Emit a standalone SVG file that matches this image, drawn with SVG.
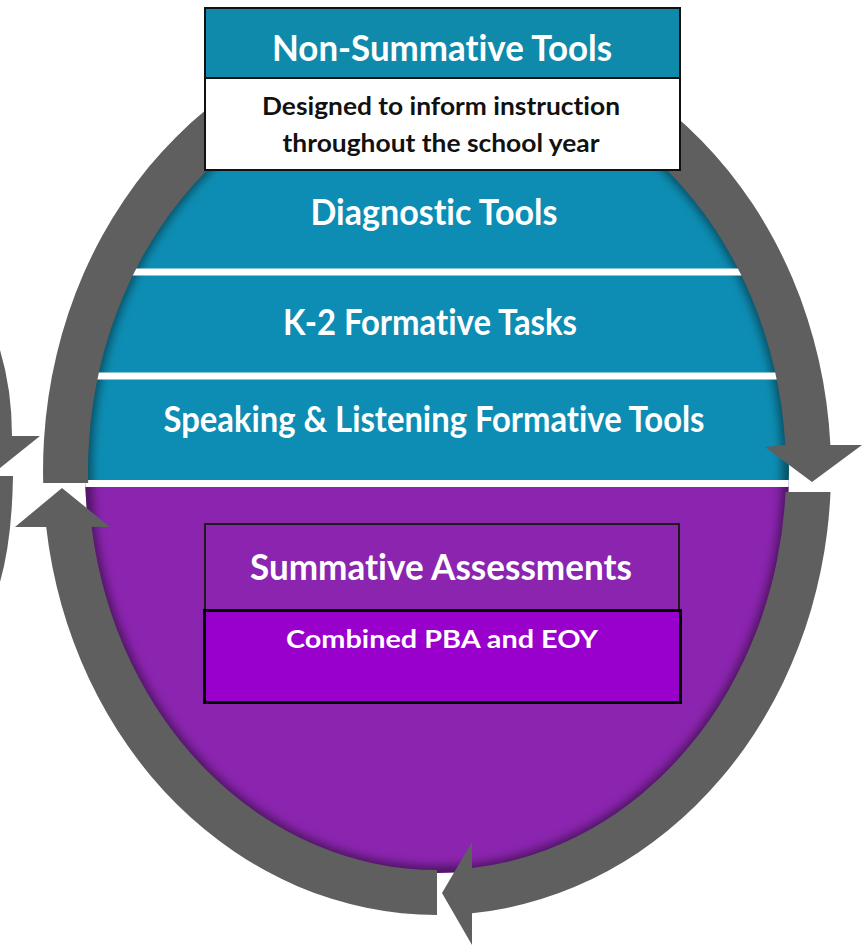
<svg xmlns="http://www.w3.org/2000/svg" width="866" height="946" viewBox="0 0 866 946">
  <style>
    .ring { fill: #5f5f5f; }
    .lbl { font-family: Lato, "Liberation Sans", "DejaVu Sans", sans-serif; font-weight: 700; text-anchor: middle; font-variant-ligatures: none; font-feature-settings: "liga" 0; }
    .white { fill: #ffffff; }
    .black { fill: #111111; }
    .big { font-size: 36px; }
    .mid { font-size: 25px; }
    .sep { fill: #ffffff; }
  </style>
  <defs>
    <clipPath id="inner">
      <ellipse cx="437" cy="470" rx="352" ry="403"/>
    </clipPath>
    <filter id="blur" x="-10%" y="-10%" width="120%" height="120%">
      <feGaussianBlur stdDeviation="5"/>
    </filter>
  </defs>
  <rect width="866" height="946" fill="#ffffff"/>

  <!-- background fill of the cycle -->
  <g id="fill">
    <g clip-path="url(#inner)">
      <rect x="80" y="60" width="720" height="424" fill="#0d8db3"/>
      <rect x="80" y="484" width="720" height="400" fill="#8b24af"/>
      <ellipse cx="437" cy="470" rx="352" ry="403" fill="none" stroke="#000" stroke-opacity="0.45" stroke-width="14" filter="url(#blur)"/>
      <rect class="sep" x="80" y="268.5" width="720" height="7"/>
      <rect class="sep" x="80" y="372.5" width="720" height="7"/>
      <rect class="sep" x="80" y="480" width="720" height="7"/>
    </g>
  </g>

  <!-- cycle arrows -->
  <g id="connectors">
    <path class="ring" d="M 43.2,483 A 394 445 0 0 1 830.4,445 L 862,445 L 812,482 L 765,447 L 785.3,445 A 349 400 0 0 0 88.2,483 Z"/>
    <path class="ring" d="M 785.5,492 L 830.5,492 A 394 445 0 0 1 472,913.2 L 472,945 L 442,893 L 472,842 L 472,868 A 349 400 0 0 0 785.5,492 Z"/>
    <path class="ring" d="M 437,915 A 394 445 0 0 1 46.2,527 L 15,527 L 62,488 L 110,527 L 91.6,527 A 349 400 0 0 0 437,870 Z"/>
    <path class="ring" d="M 0,350 Q 12,390 12,436 L 40,436 L 0,468 Z"/>
    <path class="ring" d="M 0,476 L 13,476 Q 12,540 0,582 Z"/>
  </g>

  <g id="nonSummative">
    <rect x="205" y="8" width="475" height="162" fill="#ffffff" stroke="#111" stroke-width="2"/>
    <rect x="205" y="8" width="475" height="70" fill="#0f8aab" stroke="#111" stroke-width="2"/>
    <text class="lbl white big" x="442" y="61" textLength="340" lengthAdjust="spacingAndGlyphs">Non-Summative Tools</text>
    <text class="lbl black mid" x="441" y="115" textLength="358" lengthAdjust="spacingAndGlyphs">Designed to inform instruction</text>
    <text class="lbl black mid" x="441" y="152" textLength="317" lengthAdjust="spacingAndGlyphs">throughout the school year</text>
  </g>

  <g id="diagnostic">
    <text class="lbl white big" x="434" y="225" textLength="247" lengthAdjust="spacingAndGlyphs">Diagnostic Tools</text>
  </g>

  <g id="k2">
    <text class="lbl white big" x="430" y="335" textLength="294" lengthAdjust="spacingAndGlyphs">K-2 Formative Tasks</text>
  </g>

  <g id="speaking">
    <text class="lbl white big" x="434" y="432" textLength="541" lengthAdjust="spacingAndGlyphs">Speaking &amp; Listening Formative Tools</text>
  </g>

  <g id="summative">
    <rect x="205" y="524" width="474" height="87" fill="#8b24af" stroke="#1a1a1a" stroke-width="2"/>
    <rect x="204.5" y="610.5" width="476" height="92" fill="#9900cc" stroke="#000" stroke-width="3"/>
    <text class="lbl white big" x="441" y="580" textLength="382" lengthAdjust="spacingAndGlyphs">Summative Assessments</text>
    <text class="lbl white mid" x="442" y="648" textLength="312" lengthAdjust="spacingAndGlyphs">Combined PBA and EOY</text>
  </g>
</svg>
